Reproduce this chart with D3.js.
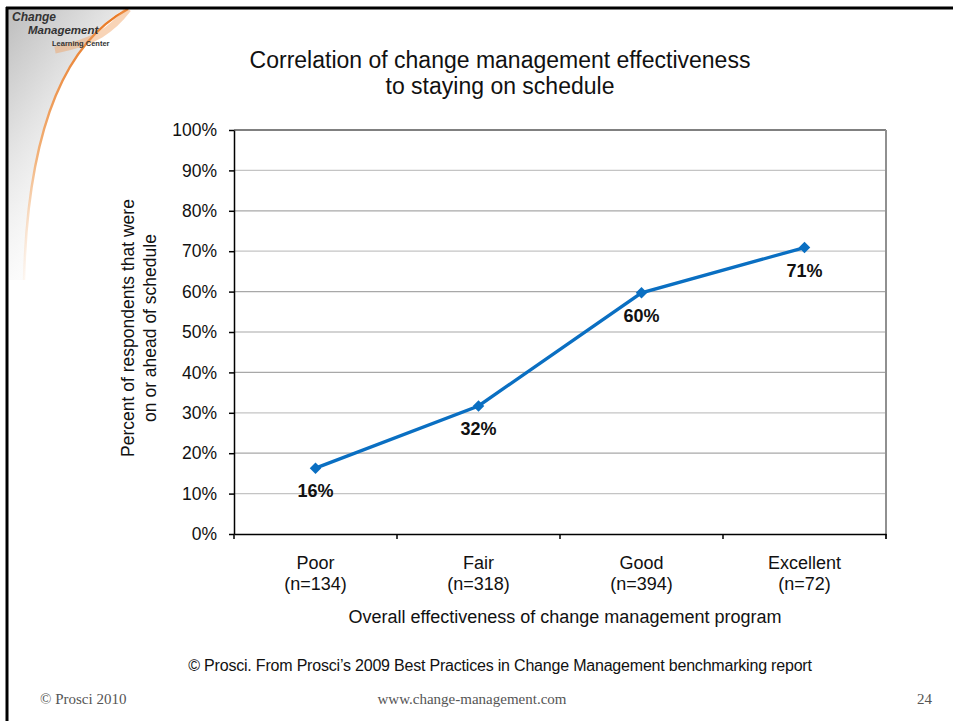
<!DOCTYPE html>
<html>
<head>
<meta charset="utf-8">
<script src="https://cdn.jsdelivr.net/npm/d3@7"></script>
<style>
  body { margin: 0; background: #fff; }
  svg { display: block; font-family: Arial, "Liberation Sans", sans-serif; }
</style>
</head>
<body>
<svg id="chart" width="953" height="721"></svg>
<script>
const categories = ['Poor', 'Fair', 'Good', 'Excellent'];
const sampleSizes = ['(n=134)', '(n=318)', '(n=394)', '(n=72)'];
const onSchedule = [16.3, 31.7, 59.7, 70.9];
const valueLabels = ['16%', '32%', '60%', '71%'];
const yTicks = [0, 10, 20, 30, 40, 50, 60, 70, 80, 90, 100];

const svg = d3.select('#chart');

// slide frame + logo swoosh
const defs = svg.append('defs');
const grayGrad = defs.append('linearGradient').attr('id', 'grayGrad')
  .attr('x1', 0).attr('y1', 0).attr('x2', 0.6).attr('y2', 1);
grayGrad.append('stop').attr('offset', '0%').attr('stop-color', '#bdbdbd');
grayGrad.append('stop').attr('offset', '40%').attr('stop-color', '#e4e4e4');
grayGrad.append('stop').attr('offset', '100%').attr('stop-color', '#ffffff').attr('stop-opacity', 0);
const orangeGrad = defs.append('linearGradient').attr('id', 'orangeGrad')
  .attr('x1', 0).attr('y1', 0).attr('x2', 0).attr('y2', 1);
orangeGrad.append('stop').attr('offset', '0%').attr('stop-color', '#e87722');
orangeGrad.append('stop').attr('offset', '55%').attr('stop-color', '#f2b27a');
orangeGrad.append('stop').attr('offset', '100%').attr('stop-color', '#fbe5d2').attr('stop-opacity', 0.3);

svg.append('path')
  .attr('d', 'M8 9 L125 9 C70 40 28 120 24 280 L8 280 Z')
  .attr('fill', 'url(#grayGrad)');
svg.append('path')
  .attr('d', 'M128 9 C70 40 28 120 24 280')
  .attr('fill', 'none')
  .attr('stroke', 'url(#orangeGrad)')
  .attr('stroke-width', 2.5);
svg.append('path')
  .attr('d', 'M55 50 C95 42 112 30 128 9')
  .attr('fill', 'none')
  .attr('stroke', '#f0a060')
  .attr('stroke-width', 7)
  .attr('opacity', 0.45);

const logo = svg.append('g').attr('fill', '#333').attr('font-style', 'italic').attr('font-weight', 'bold');
logo.append('text').attr('x', 12).attr('y', 21).attr('font-size', 12).text('Change');
logo.append('text').attr('x', 28).attr('y', 34).attr('font-size', 11.5).text('Management');
logo.append('text').attr('x', 52).attr('y', 46).attr('font-size', 7.5).attr('font-style', 'normal').text('Learning Center');

svg.append('line').attr('x1', 6).attr('x2', 953).attr('y1', 8).attr('y2', 8)
  .attr('stroke', '#000').attr('stroke-width', 3);
svg.append('line').attr('x1', 7).attr('x2', 7).attr('y1', 7).attr('y2', 721)
  .attr('stroke', '#000').attr('stroke-width', 3);

// chart
const margin = { left: 234, right: 886, top: 130, bottom: 534 };
const x = d3.scaleBand().domain(categories).range([margin.left, margin.right]);
const y = d3.scaleLinear().domain([0, 100]).range([margin.bottom, margin.top]);

// gridlines
svg.append('g')
  .selectAll('line')
  .data(yTicks.filter(d => d > 0))
  .join('line')
  .attr('x1', margin.left).attr('x2', margin.right)
  .attr('y1', d => y(d)).attr('y2', d => y(d))
  .attr('stroke', (d, i) => d === 100 ? '#808080' : (i % 2 ? '#a8a8a8' : '#c4c4c4'))
  .attr('stroke-width', d => d === 100 ? 2 : 1.3);

// right frame edge
svg.append('line')
  .attr('x1', margin.right).attr('x2', margin.right)
  .attr('y1', margin.top).attr('y2', margin.bottom + 5)
  .attr('stroke', '#909090').attr('stroke-width', 2);

// y axis
const yAxis = svg.append('g')
  .attr('transform', `translate(${margin.left},0)`)
  .call(d3.axisLeft(y).tickValues(yTicks).tickFormat(d => d + '%').tickSize(5).tickSizeOuter(0).tickPadding(12));
yAxis.select('.domain').attr('stroke', '#000').attr('stroke-width', 1.5);
yAxis.selectAll('.tick line').attr('stroke', '#000').attr('stroke-width', 1.5);
yAxis.selectAll('.tick text').attr('font-size', 17.5).attr('fill', '#111')
  .attr('font-family', 'Arial, "Liberation Sans", sans-serif');

// x axis
const xAxis = svg.append('g')
  .attr('transform', `translate(0,${margin.bottom})`)
  .call(d3.axisBottom(x).tickSize(0).tickFormat(''));
xAxis.select('.domain').attr('stroke', '#000').attr('stroke-width', 1.5);
svg.append('g')
  .selectAll('line')
  .data(d3.range(categories.length + 1))
  .join('line')
  .attr('x1', i => margin.left + i * x.step())
  .attr('x2', i => margin.left + i * x.step())
  .attr('y1', margin.bottom).attr('y2', margin.bottom + 5)
  .attr('stroke', '#000').attr('stroke-width', 1.5);

const xLabels = svg.append('g').attr('font-size', 18).attr('fill', '#111').attr('text-anchor', 'middle');
xLabels.selectAll('text.cat')
  .data(categories)
  .join('text')
  .attr('class', 'cat')
  .attr('x', d => x(d) + x.bandwidth() / 2)
  .attr('y', 569)
  .text(d => d);
xLabels.selectAll('text.n')
  .data(sampleSizes)
  .join('text')
  .attr('class', 'n')
  .attr('x', (d, i) => x(categories[i]) + x.bandwidth() / 2)
  .attr('y', 590)
  .text(d => d);

// line + markers
const cx = (d, i) => x(categories[i]) + x.bandwidth() / 2;
svg.append('path')
  .datum(onSchedule)
  .attr('d', d3.line().x(cx).y(d => y(d)))
  .attr('fill', 'none')
  .attr('stroke', '#0a6fc2')
  .attr('stroke-width', 3.3);
svg.append('g')
  .selectAll('path')
  .data(onSchedule)
  .join('path')
  .attr('d', d3.symbol().type(d3.symbolSquare).size(66))
  .attr('transform', (d, i) => `translate(${cx(d, i)},${y(d)}) rotate(45)`)
  .attr('fill', '#0a6fc2');

svg.append('g')
  .selectAll('text')
  .data(onSchedule)
  .join('text')
  .attr('x', cx)
  .attr('y', d => y(d) + 29)
  .attr('text-anchor', 'middle')
  .attr('font-size', 18)
  .attr('font-weight', 'bold')
  .attr('fill', '#111')
  .text((d, i) => valueLabels[i]);

// titles
const title = svg.append('text').attr('text-anchor', 'middle').attr('font-size', 23).attr('fill', '#111');
title.append('tspan').attr('x', 500).attr('y', 68).text('Correlation of change management effectiveness');
title.append('tspan').attr('x', 500).attr('y', 94).text('to staying on schedule');

svg.append('text')
  .attr('x', 565).attr('y', 623)
  .attr('text-anchor', 'middle').attr('font-size', 18).attr('fill', '#111')
  .text('Overall effectiveness of change management program');

const yTitle = svg.append('text')
  .attr('transform', 'rotate(-90)')
  .attr('text-anchor', 'middle').attr('font-size', 17.5).attr('fill', '#111');
yTitle.append('tspan').attr('x', -328).attr('y', 134).text('Percent of respondents that were');
yTitle.append('tspan').attr('x', -328).attr('y', 156).text('on or ahead of schedule');

// footers
svg.append('text')
  .attr('x', 500).attr('y', 671)
  .attr('text-anchor', 'middle').attr('font-size', 16).attr('fill', '#111')
  .attr('letter-spacing', -0.2)
  .text('\u00a9 Prosci. From Prosci\u2019s 2009 Best Practices in Change Management benchmarking report');

const foot = svg.append('g').attr('font-family', '"Liberation Serif", "Times New Roman", serif')
  .attr('font-size', 15).attr('fill', '#555');
foot.append('text').attr('x', 40).attr('y', 704).text('\u00a9 Prosci 2010');
foot.append('text').attr('x', 472).attr('y', 704).attr('text-anchor', 'middle').text('www.change-management.com');
foot.append('text').attr('x', 932).attr('y', 704).attr('text-anchor', 'end').text('24');
</script>
</body>
</html>
